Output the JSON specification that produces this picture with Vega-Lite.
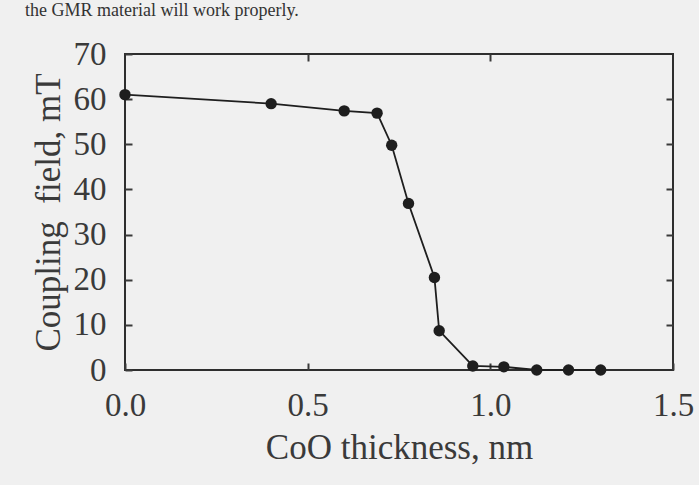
{
  "$schema": "https://vega.github.io/schema/vega-lite/v6.json",
  "width": 548,
  "height": 316,
  "autosize": "none",
  "padding": {"left": 125, "top": 54, "right": 26, "bottom": 115},
  "background": "#f0f0f0",
  "title": {
    "text": "the GMR material will work properly.",
    "anchor": "start",
    "frame": "group",
    "dx": -100,
    "dy": 16,
    "offset": 34,
    "fontSize": 18,
    "font": "Liberation Serif",
    "fontWeight": "normal",
    "color": "#333333"
  },
  "config": {
    "view": {"stroke": "#2e2e2e", "strokeWidth": 2},
    "font": "Liberation Serif",
    "axis": {
      "domain": false,
      "grid": false,
      "ticks": true,
      "tickSize": -7,
      "tickWidth": 2,
      "tickColor": "#3a3a3a",
      "labelFont": "Liberation Serif",
      "labelFontSize": 33,
      "labelColor": "#3a3a3a",
      "labelFlush": false,
      "labelOverlap": false,
      "titleFont": "Liberation Serif",
      "titleFontSize": 35,
      "titleFontWeight": "normal",
      "titleColor": "#3a3a3a"
    }
  },
  "data": {
    "values": [
      {"t": 0.0, "h": 61.0},
      {"t": 0.40, "h": 59.0},
      {"t": 0.60, "h": 57.4},
      {"t": 0.69, "h": 56.9},
      {"t": 0.73, "h": 49.8},
      {"t": 0.776, "h": 36.9},
      {"t": 0.847, "h": 20.5},
      {"t": 0.86, "h": 8.7},
      {"t": 0.952, "h": 0.9},
      {"t": 1.037, "h": 0.7},
      {"t": 1.127, "h": 0.0},
      {"t": 1.214, "h": 0.0},
      {"t": 1.302, "h": 0.0}
    ]
  },
  "layer": [
    {
      "mark": {"type": "line", "color": "#1e1e1e", "strokeWidth": 1.8},
      "encoding": {
        "x": {
          "field": "t",
          "type": "quantitative",
          "scale": {"domain": [0, 1.5], "nice": false},
          "axis": {
            "orient": "bottom",
            "values": [0, 0.5, 1.0, 1.5],
            "format": ".1f",
            "labelPadding": 26,
            "title": "CoO thickness, nm",
            "titlePadding": 8
          }
        },
        "y": {
          "field": "h",
          "type": "quantitative",
          "scale": {"domain": [0, 70], "nice": false},
          "axis": {
            "orient": "left",
            "values": [0, 10, 20, 30, 40, 50, 60, 70],
            "labelPadding": 26,
            "title": "Coupling\u2002field, mT",
            "titlePadding": 7
          }
        }
      }
    },
    {
      "mark": {"type": "point", "filled": true, "color": "#1e1e1e", "size": 130, "opacity": 1},
      "encoding": {
        "x": {
          "field": "t",
          "type": "quantitative",
          "scale": {"domain": [0, 1.5], "nice": false},
          "axis": {"orient": "top", "values": [0.5, 1.0], "labels": false, "title": null}
        },
        "y": {
          "field": "h",
          "type": "quantitative",
          "scale": {"domain": [0, 70], "nice": false},
          "axis": {"orient": "right", "values": [10, 20, 30, 40, 50, 60], "labels": false, "title": null}
        }
      }
    }
  ],
  "resolve": {"axis": {"x": "independent", "y": "independent"}}
}
